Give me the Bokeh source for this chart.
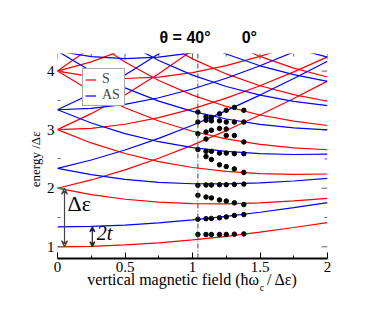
import math
from bokeh.plotting import figure
from bokeh.models import (Range1d, Label, Span, Arrow, VeeHead, Legend, LegendItem,
                          FixedTicker, Title)
from bokeh.embed import file_html
from bokeh.resources import INLINE

# vertical magnetic field (hbar w_c / de) sample positions
field = [0.0, 0.25, 0.5, 0.75, 1.0, 1.25, 1.5, 1.75, 2.0]

# symmetric (S) levels, energy / de
s_levels = [
    [1.000, 1.008, 1.031, 1.068, 1.118, 1.179, 1.250, 1.329, 1.414],
    [2.000, 1.891, 1.812, 1.761, 1.736, 1.734, 1.750, 1.783, 1.828],
    [2.000, 2.141, 2.312, 2.511, 2.736, 2.984, 3.250, 3.533, 3.828],
    [3.000, 3.023, 3.092, 3.204, 3.354, 3.538, 3.750, 3.986, 4.243],
    [3.000, 2.773, 2.592, 2.454, 2.354, 2.288, 2.250, 2.236, 2.243],
    [3.000, 3.273, 3.592, 3.954, 4.354, 4.788, 5.250, 5.736, 6.243],
    [4.000, 3.906, 3.873, 3.897, 3.972, 4.092, 4.250, 4.440, 4.657],
    [4.000, 4.156, 4.373, 4.647, 4.972, 5.342, 5.750, 6.190, 6.657],
    [4.000, 3.656, 3.373, 3.147, 2.972, 2.842, 2.750, 2.690, 2.657],
    [4.000, 4.406, 4.873, 5.397, 5.972, 6.592, 7.250, 7.940, 8.657],
    [5.000, 4.539, 4.154, 3.840, 3.590, 3.396, 3.250, 3.144, 3.071],
    [6.000, 5.422, 4.935, 4.533, 4.208, 3.951, 3.750, 3.598, 3.485],
    [7.000, 6.304, 5.715, 5.226, 4.826, 4.505, 4.250, 4.051, 3.899],
]

# antisymmetric (AS) levels, energy / de
as_levels = [
    [1.340, 1.348, 1.371, 1.408, 1.458, 1.519, 1.590, 1.669, 1.754],
    [2.340, 2.231, 2.152, 2.101, 2.076, 2.074, 2.090, 2.123, 2.168],
    [2.340, 2.481, 2.652, 2.851, 3.076, 3.324, 3.590, 3.873, 4.168],
    [3.340, 3.363, 3.432, 3.544, 3.694, 3.878, 4.090, 4.326, 4.583],
    [3.340, 3.113, 2.932, 2.794, 2.694, 2.628, 2.590, 2.576, 2.583],
    [3.340, 3.613, 3.932, 4.294, 4.694, 5.128, 5.590, 6.076, 6.583],
    [4.340, 4.246, 4.213, 4.237, 4.312, 4.432, 4.590, 4.780, 4.997],
    [4.340, 3.996, 3.713, 3.487, 3.312, 3.182, 3.090, 3.030, 2.997],
    [5.340, 4.879, 4.494, 4.180, 3.930, 3.736, 3.590, 3.484, 3.411],
    [6.340, 5.762, 5.275, 4.873, 4.548, 4.291, 4.090, 3.938, 3.825],
    [7.340, 6.644, 6.055, 5.566, 5.166, 4.845, 4.590, 4.391, 4.239],
]

# theta = 40 deg points
dot_x = [1.04, 1.10, 1.14, 1.20, 1.25, 1.31, 1.38]
dot_rows = [
    [1.21, 1.21, 1.21, 1.21, 1.21, 1.215, 1.22],
    [1.47, 1.48, 1.485, 1.495, 1.51, 1.535, 1.55],
    [1.88, 1.85, 1.835, 1.80, 1.78, 1.75, 1.72],
    [2.05, 2.055, 2.055, 2.06, 2.06, 2.065, 2.07],
    [None, 2.54, 2.49, 2.40, 2.37, 2.33, 2.27],
    [2.66, 2.63, 2.63, 2.60, 2.60, 2.59, 2.59],
    [None, 2.84, None, None, 2.90, 2.90, 2.79],
    [2.93, 2.96, 2.99, 3.02, 3.01, None, None],
    [3.13, 3.16, 3.15, 3.15, 3.13, 3.13, 3.13],
    [3.30, 3.22, 3.21, 3.27, 3.33, 3.38, 3.33],
]

# axis ticks
x_major = [0, 0.5, 1, 1.5, 2]
x_minor = [0.25, 0.75, 1.25, 1.75]
y_major = [1, 2, 3, 4]
y_minor = [1.5, 2.5, 3.5]
X0, X1 = 0, 2
Y0, Y1 = 0.8, 4.3

SERIF = "Liberation Serif"
NB = "\u00a0"

p = figure(width=374, height=308, output_backend="svg", toolbar_location=None,
           x_range=Range1d(X0, X1), y_range=Range1d(Y0, Y1),
           min_border_left=57, min_border_right=47, min_border_top=53, min_border_bottom=50)
p.outline_line_color = None
p.grid.visible = False
p.background_fill_color = "white"

p.xaxis.ticker = FixedTicker(ticks=x_major, minor_ticks=x_minor)
p.yaxis.ticker = FixedTicker(ticks=y_major, minor_ticks=y_minor)
for ax in (p.xaxis[0], p.yaxis[0]):
    ax.major_tick_in = 6
    ax.major_tick_out = 0
    ax.minor_tick_in = 3
    ax.minor_tick_out = 0
    ax.major_label_text_font = SERIF
    ax.major_label_text_font_size = "15px"
    ax.major_label_text_color = "black"
    ax.major_label_standoff = 3
    ax.axis_label_text_font = SERIF
    ax.axis_label_text_font_style = "normal"
    ax.axis_label_text_color = "black"
p.xaxis.axis_line_width = 2
p.xaxis.axis_line_color = "black"
p.xaxis.axis_label = "vertical magnetic field (ħω" + NB + " / Δε)"
p.xaxis.axis_label_text_font_size = "16px"
p.xaxis.axis_label_standoff = -4
p.yaxis.axis_line_color = None
p.yaxis.major_tick_line_color = "#666"
p.yaxis.minor_tick_line_color = "#666"
p.yaxis.axis_label = "energy /Δε" + NB * 2
p.yaxis.axis_label_text_font_size = "13px"
p.yaxis.axis_label_standoff = 1

# inward ticks on top and right edges
p.ray(x=x_major, y=[Y1] * len(x_major), length=6, length_units="screen",
      angle=-math.pi / 2, line_color="#666", line_width=1)
p.ray(x=x_minor, y=[Y1] * len(x_minor), length=3, length_units="screen",
      angle=-math.pi / 2, line_color="#666", line_width=1)
p.ray(x=[X1] * len(y_major), y=y_major, length=6, length_units="screen",
      angle=math.pi, line_color="#666", line_width=1)
p.ray(x=[X1] * len(y_minor), y=y_minor, length=3, length_units="screen",
      angle=math.pi, line_color="#666", line_width=1)

# level lines
s_rends = [p.line(field, lv, line_color="red", line_width=1.2) for lv in s_levels]
as_rends = [p.line(field, lv, line_color="blue", line_width=1.2) for lv in as_levels]

# dash-dot marker at the theta=40 deg field
p.add_layout(Span(location=dot_x[0], dimension="height", line_color="#444",
                  line_width=1, line_dash="5 2 1 2"))

# points
dx, dy = [], []
for row in dot_rows:
    for xv, yv in zip(dot_x, row):
        if yv is not None:
            dx.append(xv)
            dy.append(yv)
p.scatter(dx, dy, size=4.5, color="black")

# arrows
p.add_layout(Arrow(x_start=0.052, y_start=s_levels[0][0], x_end=0.052, y_end=s_levels[1][0],
                   start=VeeHead(size=6, line_color="#444", line_width=1.2, fill_color=None),
                   end=VeeHead(size=6, line_color="#444", line_width=1.2, fill_color=None),
                   line_color="#444", line_width=1.2))
p.add_layout(Arrow(x_start=0.258, y_start=s_levels[0][0], x_end=0.258, y_end=as_levels[0][0],
                   start=VeeHead(size=5, line_color="#222", line_width=1.2, fill_color=None),
                   end=VeeHead(size=5, line_color="#222", line_width=1.2, fill_color=None),
                   line_color="#222", line_width=1.2))
p.add_layout(Label(x=0.074, y=1.53, text="Δε", text_font=SERIF, text_font_size="22px",
                   text_color="black"))
p.add_layout(Label(x=0.29, y=1.055, text="2t", text_font=SERIF, text_font_size="20px",
                   text_font_style="italic", text_color="black"))

# angle captions
p.add_layout(Title(text="θ = 40°" + NB * 7 + "0°", align="left", offset=102, standoff=15,
                   text_font="Liberation Sans", text_font_style="bold",
                   text_font_size="16px", text_color="black"), "above")

# subscript of omega in the x-axis label
p.add_layout(Label(x=1.498, y=0.215, text="c", text_font=SERIF, text_font_size="10px",
                   text_color="black"), "right")

# legend
legend = Legend(items=[LegendItem(label="S", renderers=[s_rends[0]]),
                       LegendItem(label="AS", renderers=[as_rends[0]])],
                location=(25, 152), padding=2, spacing=0, margin=0,
                glyph_width=11, glyph_height=13, label_height=13, label_standoff=6,
                label_text_font=SERIF, label_text_font_size="14px",
                border_line_color="#555", border_line_width=1,
                background_fill_color="white", background_fill_alpha=1)
p.add_layout(legend)

open("out.html", "w").write(file_html(p, INLINE))
